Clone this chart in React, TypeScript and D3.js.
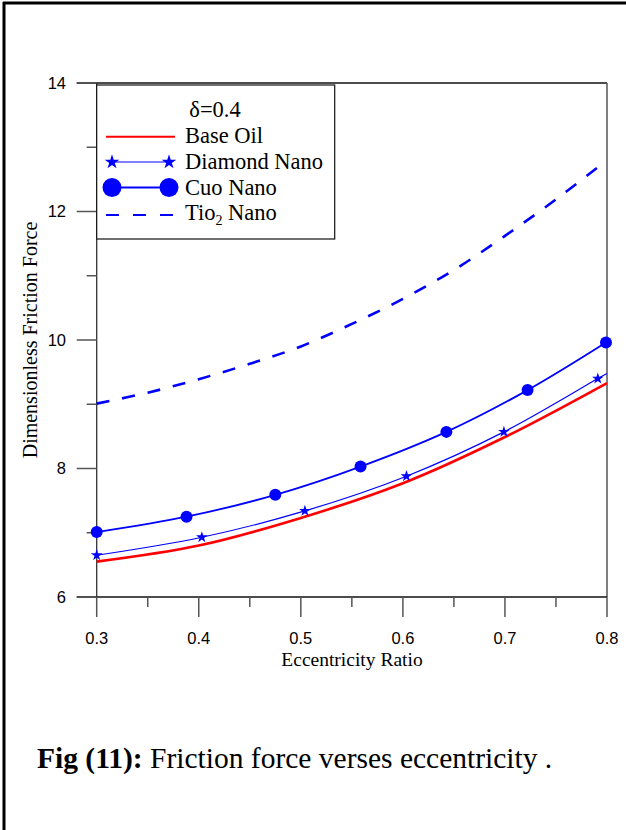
import React from "react";
import * as d3 from "d3";

const xTicks = [0.3, 0.4, 0.5, 0.6, 0.7, 0.8];
const xMinorTicks = [0.35, 0.45, 0.55, 0.65, 0.75];
const yTicks = [6, 8, 10, 12, 14];
const yMinorTicks = [7, 9, 11, 13];

const baseX = [0.3, 0.4, 0.5, 0.6, 0.7, 0.8];
const baseOil = [6.55, 6.8, 7.23, 7.77, 8.49, 9.33];

const diamondX = [0.3, 0.403, 0.504, 0.6035, 0.699, 0.791, 0.8];
const diamond = [6.65, 6.93, 7.34, 7.88, 8.57, 9.4, 9.48];

const cuoX = [0.3, 0.388, 0.475, 0.5585, 0.6426, 0.7222, 0.799];
const cuo = [7.01, 7.25, 7.59, 8.03, 8.57, 9.22, 9.96];

const tioX = [0.3, 0.35, 0.4, 0.45, 0.5, 0.55, 0.6, 0.65, 0.7, 0.75, 0.8];
const tio = [9.01, 9.18, 9.39, 9.63, 9.9, 10.25, 10.64, 11.09, 11.62, 12.19, 12.8];

const SERIF = "'Liberation Serif', 'Times New Roman', serif";
const SANS = "'Liberation Sans', Arial, sans-serif";
const BLUE = "#0000ff";
const RED = "#ff0000";

export default function App() {
  const L = 96.7, R = 607, T = 83, B = 597;
  const x = d3.scaleLinear().domain([0.3, 0.8]).range([L, R]);
  const y = d3.scaleLinear().domain([6, 14]).range([B, T]);

  const line = d3
    .line<[number, number]>()
    .x((d) => x(d[0]))
    .y((d) => y(d[1]))
    .curve(d3.curveCatmullRom.alpha(0.5));

  const zip = (xs: number[], ys: number[]) => xs.map((v, i) => [v, ys[i]] as [number, number]);

  const star = d3.symbol().type(d3.symbolStar).size(42)()!;
  const starBig = d3.symbol().type(d3.symbolStar).size(66)()!;

  const axisColor = "#333";
  const tickColor = "#555";

  return (
    <svg
      width={626}
      height={830}
      style={{ position: "absolute", left: 0, top: 0, background: "#fff" }}
    >
      <rect x={0} y={0} width={626} height={830} fill="#fff" />
      {/* outer frame */}
      <line x1={4} y1={2} x2={4} y2={830} stroke="#000" strokeWidth={3} />
      <line x1={3} y1={3} x2={626} y2={3} stroke="#000" strokeWidth={3} />

      {/* plot frame */}
      <line x1={L} y1={T} x2={L} y2={B} stroke={axisColor} strokeWidth={1.3} />
      <line x1={L - 20} y1={T} x2={R} y2={T} stroke="#111" strokeWidth={1.3} />
      <line x1={R} y1={T} x2={R} y2={B} stroke={tickColor} strokeWidth={1.5} />
      <line x1={L - 20} y1={B} x2={R} y2={B} stroke="#111" strokeWidth={1.3} />

      {/* y ticks */}
      {yTicks.map((t) => (
        <g key={"yt" + t}>
          <line x1={L - 20} x2={L} y1={y(t)} y2={y(t)} stroke={tickColor} strokeWidth={1.5} />
          <text
            x={66}
            y={y(t)}
            dy="0.36em"
            textAnchor="end"
            fontFamily={SANS}
            fontSize={16.5}
            fill="#000"
          >
            {t}
          </text>
        </g>
      ))}
      {yMinorTicks.map((t) => (
        <line key={"ym" + t} x1={L - 10} x2={L} y1={y(t)} y2={y(t)} stroke={tickColor} strokeWidth={1.5} />
      ))}

      {/* x ticks */}
      {xTicks.map((t) => (
        <g key={"xt" + t}>
          <line x1={x(t)} x2={x(t)} y1={B} y2={B + 20} stroke={tickColor} strokeWidth={1.5} />
          <text
            x={x(t)}
            y={644}
            textAnchor="middle"
            fontFamily={SANS}
            fontSize={16.5}
            fill="#000"
          >
            {t.toFixed(1)}
          </text>
        </g>
      ))}
      {xMinorTicks.map((t) => (
        <line key={"xm" + t} x1={x(t)} x2={x(t)} y1={B} y2={B + 10} stroke={tickColor} strokeWidth={1.5} />
      ))}

      {/* axis titles */}
      <text x={352} y={666} textAnchor="middle" fontFamily={SERIF} fontSize={19.5} fill="#000">
        Eccentricity Ratio
      </text>
      <text
        transform="translate(37,340) rotate(-90)"
        textAnchor="middle"
        fontFamily={SERIF}
        fontSize={20}
        fill="#000"
      >
        Dimensionless Friction Force
      </text>

      {/* series */}
      <path
        d={line(zip(tioX, tio))!}
        fill="none"
        stroke={BLUE}
        strokeWidth={2.6}
        strokeDasharray="13,13"
      />
      <path d={line(zip(baseX, baseOil))!} fill="none" stroke={RED} strokeWidth={2.6} />
      <path d={line(zip(diamondX, diamond))!} fill="none" stroke={BLUE} strokeWidth={1.2} />
      <path d={line(zip(cuoX, cuo))!} fill="none" stroke={BLUE} strokeWidth={1.8} />

      {diamondX.slice(0, 6).map((v, i) => (
        <path key={"s" + i} d={star} transform={`translate(${x(v)},${y(diamond[i])})`} fill={BLUE} />
      ))}
      {cuoX.map((v, i) => (
        <circle key={"c" + i} cx={x(v)} cy={y(cuo[i])} r={6} fill={BLUE} />
      ))}

      {/* legend */}
      <rect x={L} y={85} width={238} height={154} fill="#fff" stroke="#111" strokeWidth={1.2} />
      <text x={215} y={117} textAnchor="middle" fontFamily={SERIF} fontSize={22.5} fill="#000">
        δ=0.4
      </text>
      <line x1={106} x2={175} y1={136.7} y2={136.7} stroke={RED} strokeWidth={2} />
      <text x={185} y={143} fontFamily={SERIF} fontSize={22.5} fill="#000">Base Oil</text>

      <line x1={112} x2={169} y1={162} y2={162} stroke={BLUE} strokeWidth={1.2} />
      <path d={starBig} transform="translate(112,162)" fill={BLUE} />
      <path d={starBig} transform="translate(169,162)" fill={BLUE} />
      <text x={185} y={169} fontFamily={SERIF} fontSize={22.5} fill="#000">Diamond Nano</text>

      <line x1={112} x2={169} y1={187.5} y2={187.5} stroke={BLUE} strokeWidth={1.8} />
      <circle cx={112} cy={187.5} r={9.5} fill={BLUE} />
      <circle cx={169} cy={187.5} r={9.5} fill={BLUE} />
      <text x={185} y={194.5} fontFamily={SERIF} fontSize={22.5} fill="#000">Cuo Nano</text>

      <line x1={106} x2={175} y1={215} y2={215} stroke={BLUE} strokeWidth={2} strokeDasharray="13,14" />
      <text x={185} y={220} fontFamily={SERIF} fontSize={22.5} fill="#000">
        Tio
        <tspan fontSize={14} dy={5}>2</tspan>
        <tspan dy={-5}> Nano</tspan>
      </text>

      {/* caption */}
      <text x={37} y={768} fontFamily={SERIF} fontSize={29.5} fill="#000">
        <tspan fontWeight="bold">Fig (11):</tspan>
        <tspan> Friction force verses eccentricity .</tspan>
      </text>
    </svg>
  );
}
